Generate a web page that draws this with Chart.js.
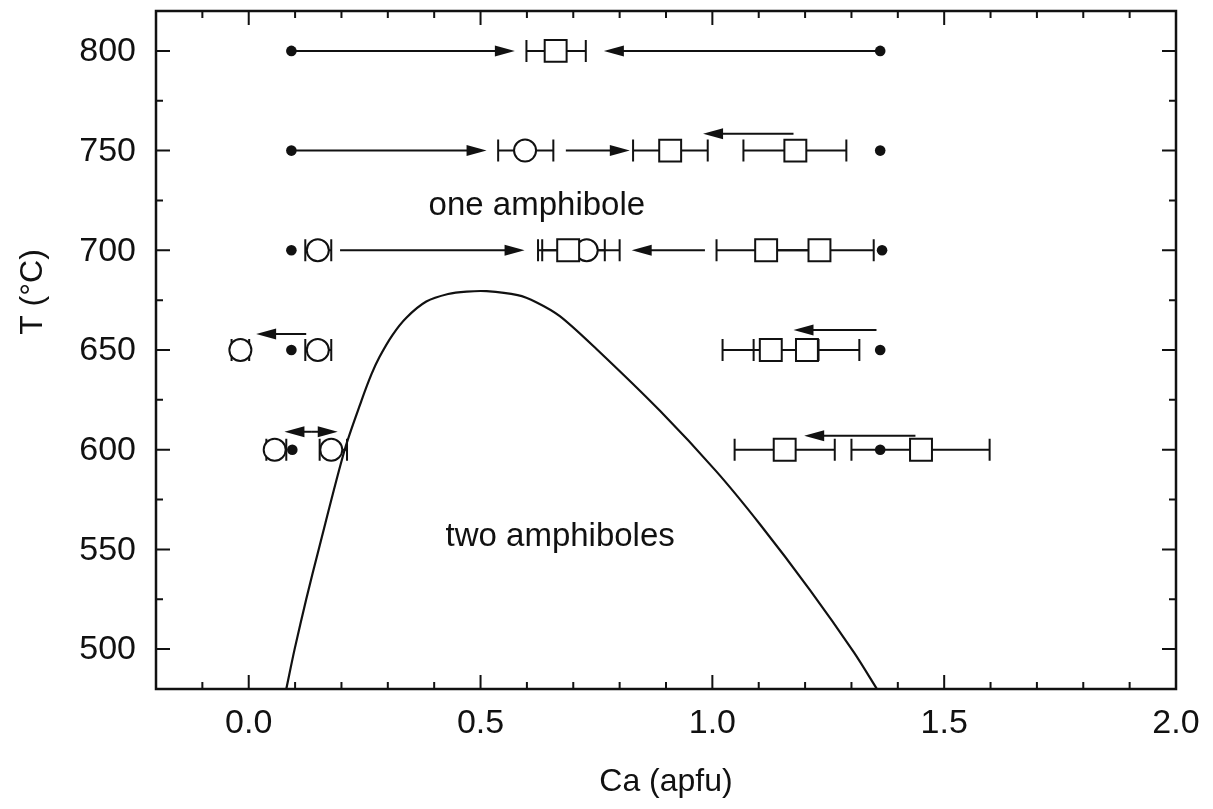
<!DOCTYPE html>
<html>
<head>
<meta charset="utf-8">
<script src="https://cdn.jsdelivr.net/npm/chart.js@4.4.0/dist/chart.umd.min.js"></script>
<style>
  body { margin: 0; background: #fff; }
</style>
</head>
<body>
<canvas id="solvus" width="1213" height="809"></canvas>
<script>
// solvus curve (Ca apfu vs T)
const solvusCa = [0.081, 0.099, 0.124, 0.152, 0.207, 0.243, 0.265, 0.282, 0.31, 0.34, 0.383, 0.43, 0.47, 0.513, 0.58, 0.62, 0.671, 0.75, 0.887, 1.009, 1.103, 1.211, 1.305, 1.355];
const solvusT  = [480, 500, 525, 551, 600, 624.5, 638, 646.5, 657.5, 666.2, 674.3, 678.1, 679.3, 679.5, 677.5, 674, 667, 650.5, 619.5, 589, 562.5, 529.5, 498.5, 480];

// starting compositions (filled dots)
const startCa = [0.092, 1.362, 0.092, 1.362, 0.092, 1.366, 0.092, 1.362, 0.094, 1.362];
const startT  = [800, 800, 750, 750, 700, 700, 650, 650, 600, 600];

// open circles with error ranges
const circleCa = [0.596, 0.149, 0.729, -0.018, 0.149, 0.056, 0.178];
const circleT  = [750, 700, 700, 650, 650, 600, 600];
const circleLo = [0.538, 0.122, 0.633, -0.037, 0.122, 0.038, 0.153];
const circleHi = [0.657, 0.178, 0.800, 0.001, 0.178, 0.081, 0.212];

// open squares with error ranges
const squareCa = [0.662, 0.909, 1.179, 0.689, 1.116, 1.231, 1.126, 1.204, 1.156, 1.450];
const squareT  = [800, 750, 750, 700, 700, 700, 650, 650, 600, 600];
const squareLo = [0.599, 0.829, 1.067, 0.624, 1.009, 1.115, 1.022, 1.089, 1.048, 1.300];
const squareHi = [0.727, 0.990, 1.289, 0.768, 1.212, 1.348, 1.229, 1.317, 1.264, 1.598];

// reaction arrows (tail -> head)
const arrowFrom = [0.092, 1.362, 0.092, 0.684, 1.175, 0.197, 0.984, 0.124, 1.354, 0.1345, 0.1345, 1.438];
const arrowTo   = [0.574, 0.766, 0.513, 0.822, 0.980, 0.595, 0.826, 0.016, 1.175, 0.077, 0.192, 1.198];
const arrowT    = [800, 800, 750, 750, 758.4, 700, 700, 658, 660, 609, 609, 607];

const xTicks = [0, 0.5, 1, 1.5, 2];
const yTicks = [500, 550, 600, 650, 700, 750, 800];

const ink = '#111';
const font = "'Liberation Sans', Arial, sans-serif";

const pts = (xs, ys) => xs.map((v, i) => ({ x: v, y: ys[i] }));

const decor = {
  id: 'decor',
  beforeDatasetsDraw(chart) {
    const ctx = chart.ctx, sx = chart.scales.x, sy = chart.scales.y;
    ctx.save();
    ctx.strokeStyle = ink;
    ctx.fillStyle = ink;
    ctx.lineWidth = 2;
    const bars = (t, lo, hi) => {
      for (let i = 0; i < t.length; i++) {
        const py = sy.getPixelForValue(t[i]);
        const l = sx.getPixelForValue(lo[i]), r = sx.getPixelForValue(hi[i]);
        ctx.beginPath();
        ctx.moveTo(l, py); ctx.lineTo(r, py);
        ctx.moveTo(l, py - 11); ctx.lineTo(l, py + 11);
        ctx.moveTo(r, py - 11); ctx.lineTo(r, py + 11);
        ctx.stroke();
      }
    };
    bars(circleT, circleLo, circleHi);
    bars(squareT, squareLo, squareHi);
    for (let i = 0; i < arrowT.length; i++) {
      const a = sx.getPixelForValue(arrowFrom[i]);
      const b = sx.getPixelForValue(arrowTo[i]);
      const py = sy.getPixelForValue(arrowT[i]);
      const d = Math.sign(b - a);
      ctx.beginPath();
      ctx.moveTo(a, py); ctx.lineTo(b - d * 16, py);
      ctx.stroke();
      ctx.beginPath();
      ctx.moveTo(b, py);
      ctx.lineTo(b - d * 20, py - 5.5);
      ctx.lineTo(b - d * 20, py + 5.5);
      ctx.closePath();
      ctx.fill();
    }
    ctx.restore();
  },
  afterDraw(chart) {
    const ctx = chart.ctx, sx = chart.scales.x, sy = chart.scales.y;
    const { left, right, top, bottom } = chart.chartArea;
    ctx.save();
    ctx.strokeStyle = ink;
    ctx.lineWidth = 2.5;
    ctx.strokeRect(left, top, right - left, bottom - top);
    ctx.lineWidth = 2;
    ctx.beginPath();
    // x ticks, inward on bottom and top
    for (let k = -1; k <= 20; k++) {
      const px = sx.getPixelForValue(k / 10);
      const len = k % 5 === 0 ? 14 : 7;
      ctx.moveTo(px, bottom); ctx.lineTo(px, bottom - len);
      ctx.moveTo(px, top); ctx.lineTo(px, top + len);
    }
    // y ticks, inward on left and right
    for (let v = 500; v <= 800; v += 25) {
      const py = sy.getPixelForValue(v);
      const len = v % 50 === 0 ? 14 : 7;
      ctx.moveTo(left, py); ctx.lineTo(left + len, py);
      ctx.moveTo(right, py); ctx.lineTo(right - len, py);
    }
    ctx.stroke();

    // tick labels
    ctx.fillStyle = ink;
    ctx.font = '34px ' + font;
    ctx.textBaseline = 'middle';
    ctx.textAlign = 'center';
    xTicks.forEach(v => ctx.fillText(v.toFixed(1), sx.getPixelForValue(v), bottom + 35));
    ctx.textAlign = 'right';
    yTicks.forEach(v => ctx.fillText(String(v), left - 20, sy.getPixelForValue(v) + 1));

    // axis titles
    ctx.font = '32px ' + font;
    ctx.textAlign = 'center';
    ctx.fillText('Ca (apfu)', (left + right) / 2, 782);
    ctx.save();
    ctx.translate(33, 292);
    ctx.rotate(-Math.PI / 2);
    ctx.fillText('T (°C)', 0, 0);
    ctx.restore();

    // field labels
    ctx.font = '33px ' + font;
    ctx.textBaseline = 'alphabetic';
    ctx.textAlign = 'left';
    ctx.fillText('one amphibole', sx.getPixelForValue(0.388), sy.getPixelForValue(717.7));
    ctx.textAlign = 'right';
    ctx.fillText('two amphiboles', sx.getPixelForValue(0.919), sy.getPixelForValue(551.7));
    ctx.restore();
  }
};

new Chart(document.getElementById('solvus'), {
  type: 'scatter',
  data: {
    datasets: [
      {
        label: 'start',
        data: pts(startCa, startT),
        pointStyle: 'circle',
        pointRadius: 5.3,
        backgroundColor: ink,
        borderWidth: 0,
        order: 0
      },
      {
        label: 'squares',
        data: pts(squareCa, squareT),
        pointStyle: 'rect',
        pointRadius: 15.5,
        backgroundColor: '#fff',
        borderColor: ink,
        borderWidth: 2,
        order: 1
      },
      {
        label: 'circles',
        data: pts(circleCa, circleT),
        pointStyle: 'circle',
        pointRadius: 11,
        backgroundColor: '#fff',
        borderColor: ink,
        borderWidth: 2,
        order: 2
      },
      {
        label: 'solvus',
        data: pts(solvusCa, solvusT),
        showLine: true,
        pointRadius: 0,
        borderColor: ink,
        borderWidth: 2.2,
        tension: 0.3,
        order: 3
      }
    ]
  },
  options: {
    responsive: false,
    animation: false,
    layout: { autoPadding: false, padding: { top: 11, right: 37, left: 0, bottom: 0 } },
    plugins: { legend: { display: false }, tooltip: { enabled: false } },
    scales: {
      x: {
        type: 'linear',
        min: -0.2,
        max: 2.0,
        afterFit: s => { s.height = 120; },
        grid: { display: false, drawTicks: false },
        border: { display: false },
        ticks: { display: false }
      },
      y: {
        type: 'linear',
        min: 480,
        max: 820,
        afterFit: s => { s.width = 156; },
        grid: { display: false, drawTicks: false },
        border: { display: false },
        ticks: { display: false }
      }
    }
  },
  plugins: [decor]
});
</script>
</body>
</html>
